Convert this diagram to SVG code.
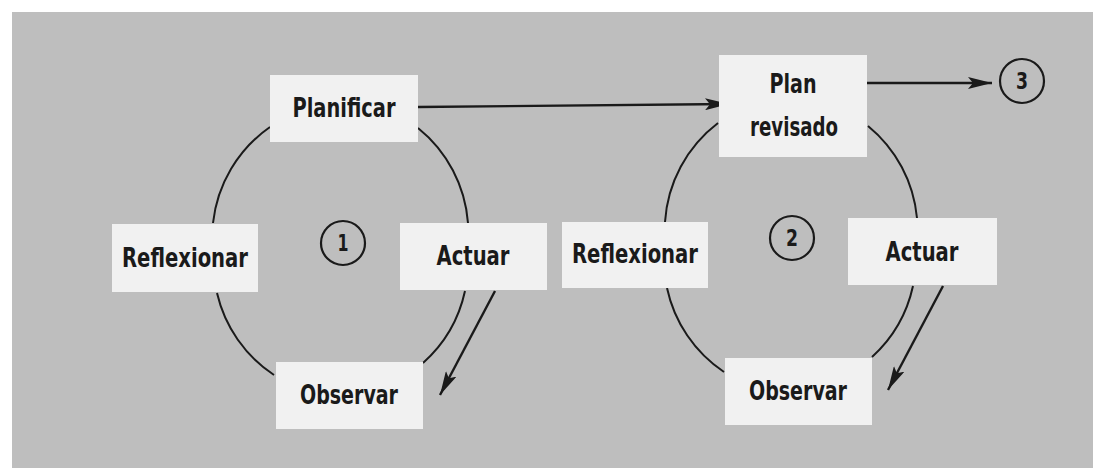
<svg xmlns="http://www.w3.org/2000/svg" width="1093" height="468" viewBox="0 0 1093 468">
  <style>
    .box { fill: #f1f1f1; }
    .lbl { font-family: "DejaVu Sans Condensed", "Liberation Sans", sans-serif; font-weight: bold; font-size: 27px; fill: #1a1a1a; text-anchor: middle; }
    .num { font-family: "DejaVu Sans Condensed", "Liberation Sans", sans-serif; font-weight: bold; font-size: 23px; fill: #1a1a1a; text-anchor: middle; }
    .ring { fill: none; stroke: #1a1a1a; stroke-width: 2.2; }
    .arc { fill: none; stroke: #1a1a1a; stroke-width: 2; }
    .arr { fill: none; stroke: #1a1a1a; stroke-width: 2.4; marker-end: url(#head); }
  </style>
  <defs>
    <marker id="head" viewBox="0 0 24 12" refX="24" refY="6" markerWidth="24" markerHeight="12" markerUnits="userSpaceOnUse" orient="auto">
      <path d="M0,0 L24,6 L0,12 L5,6 Z" fill="#1a1a1a"/>
    </marker>
  </defs>
  <rect x="0" y="0" width="1093" height="468" fill="#ffffff"/>
  <rect x="12" y="12" width="1081" height="456" fill="#bebebe"/>

  <g id="connectors">
    <path class="arc" d="M270,127 A135,135 0 0 0 213,223"/>
    <path class="arc" d="M418,128 A135,135 0 0 1 468,223"/>
    <path class="arc" d="M217,293 A135,135 0 0 0 274,375"/>
    <path class="arc" d="M465,291 A135,135 0 0 1 423,363"/>
    <path class="arr" d="M495,291 L440,395"/>
    <path class="arc" d="M718,123 A135,135 0 0 0 665,222"/>
    <path class="arc" d="M868,126 A135,135 0 0 1 917,218"/>
    <path class="arc" d="M667,288 A135,135 0 0 0 724,372"/>
    <path class="arc" d="M913,286 A135,135 0 0 1 872,357"/>
    <path class="arr" d="M943,286 L888,390"/>
    <path class="arr" d="M418,107 L729,104"/>
    <path class="arr" d="M835,83 L992,83"/>
  </g>

  <g id="planificar">
    <rect class="box" x="270" y="75" width="148" height="67"/>
    <text class="lbl" x="344" y="117" textLength="103" lengthAdjust="spacingAndGlyphs">Planificar</text>
  </g>
  <g id="reflexionar1">
    <rect class="box" x="112" y="224" width="146" height="68"/>
    <text class="lbl" x="185" y="267" textLength="126" lengthAdjust="spacingAndGlyphs">Reflexionar</text>
  </g>
  <g id="actuar1">
    <rect class="box" x="400" y="223" width="147" height="67"/>
    <text class="lbl" x="473" y="265" textLength="73" lengthAdjust="spacingAndGlyphs">Actuar</text>
  </g>
  <g id="observar1">
    <rect class="box" x="276" y="362" width="147" height="67"/>
    <text class="lbl" x="349" y="404" textLength="98" lengthAdjust="spacingAndGlyphs">Observar</text>
  </g>
  <g id="ciclo1">
    <circle class="ring" cx="343" cy="243" r="22"/>
    <text class="num" x="343" y="251" textLength="11" lengthAdjust="spacingAndGlyphs">1</text>
  </g>

  <g id="plan-revisado">
    <rect class="box" x="719" y="55" width="148" height="102"/>
    <text class="lbl" x="793" y="93" textLength="47" lengthAdjust="spacingAndGlyphs">Plan</text>
    <text class="lbl" x="794" y="136" textLength="88" lengthAdjust="spacingAndGlyphs">revisado</text>
  </g>
  <g id="reflexionar2">
    <rect class="box" x="562" y="222" width="146" height="66"/>
    <text class="lbl" x="635" y="263" textLength="126" lengthAdjust="spacingAndGlyphs">Reflexionar</text>
  </g>
  <g id="actuar2">
    <rect class="box" x="848" y="218" width="149" height="67"/>
    <text class="lbl" x="922" y="261" textLength="73" lengthAdjust="spacingAndGlyphs">Actuar</text>
  </g>
  <g id="observar2">
    <rect class="box" x="725" y="358" width="147" height="67"/>
    <text class="lbl" x="798" y="400" textLength="98" lengthAdjust="spacingAndGlyphs">Observar</text>
  </g>
  <g id="ciclo2">
    <circle class="ring" cx="792" cy="238" r="22"/>
    <text class="num" x="792" y="246" textLength="12" lengthAdjust="spacingAndGlyphs">2</text>
  </g>
  <g id="ciclo3">
    <circle class="ring" cx="1022" cy="81" r="22"/>
    <text class="num" x="1022" y="89" textLength="12" lengthAdjust="spacingAndGlyphs">3</text>
  </g>
</svg>
